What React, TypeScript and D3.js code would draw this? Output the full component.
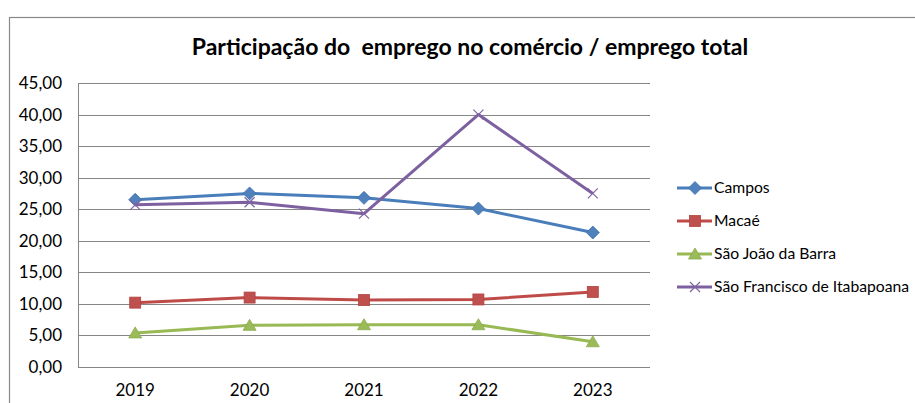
import React, { useEffect, useRef } from "react";
import * as d3 from "d3";

const years = ["2019", "2020", "2021", "2022", "2023"];
const campos = [26.5, 27.5, 26.8, 25.1, 21.3];
const macae = [10.2, 11.0, 10.6, 10.7, 11.9];
const saoJoao = [5.4, 6.6, 6.7, 6.7, 4.0];
const saoFrancisco = [25.7, 26.1, 24.3, 40.0, 27.5];
const yTicks = [0, 5, 10, 15, 20, 25, 30, 35, 40, 45];
const title = "Participação do  emprego no comércio / emprego total";

const series = [
  { name: "Campos", values: campos, color: "#4A7EBB", fill: "#4F81BD", marker: "diamond" },
  { name: "Macaé", values: macae, color: "#BE4B48", fill: "#C0504D", marker: "square" },
  { name: "São João da Barra", values: saoJoao, color: "#98B954", fill: "#9BBB59", marker: "triangle" },
  { name: "São Francisco de Itabapoana", values: saoFrancisco, color: "#7D60A0", fill: "#8064A2", marker: "x" },
];

const font = "Lato, 'Liberation Sans', sans-serif";

function drawMarker(g: any, kind: string, x: number, y: number, fill: string) {
  if (kind === "diamond") {
    g.append("path")
      .attr("d", `M${x},${y - 6.5}L${x + 6.5},${y}L${x},${y + 6.5}L${x - 6.5},${y}Z`)
      .attr("fill", fill)
      .attr("stroke", "#3F6FA8")
      .attr("stroke-width", 0.8);
  } else if (kind === "square") {
    g.append("rect")
      .attr("x", x - 5.5)
      .attr("y", y - 5.5)
      .attr("width", 11)
      .attr("height", 11)
      .attr("fill", fill)
      .attr("stroke", "#B04441")
      .attr("stroke-width", 0.8);
  } else if (kind === "triangle") {
    g.append("path")
      .attr("d", `M${x},${y - 6}L${x + 6.5},${y + 5}L${x - 6.5},${y + 5}Z`)
      .attr("fill", fill)
      .attr("stroke", "#8CAB4F")
      .attr("stroke-width", 0.8);
  } else {
    g.append("path")
      .attr("d", `M${x - 5},${y - 5}L${x + 5},${y + 5}M${x - 5},${y + 5}L${x + 5},${y - 5}`)
      .attr("stroke", fill)
      .attr("stroke-width", 1.2)
      .attr("fill", "none");
  }
}

const App = () => {
  const svgRef = useRef<SVGSVGElement>(null);

  useEffect(() => {
    const width = 915,
      height = 403;
    const margin = { top: 83, right: 265, bottom: 36, left: 78 };

    const svg = d3.select(svgRef.current);
    svg.selectAll("*").remove();
    svg.attr("width", width).attr("height", height);

    svg.append("rect").attr("width", width).attr("height", height).attr("fill", "#fff");

    // chart frame
    svg
      .append("rect")
      .attr("x", 9.5)
      .attr("y", 17.5)
      .attr("width", 1000)
      .attr("height", 500)
      .attr("fill", "none")
      .attr("stroke", "#898989")
      .attr("stroke-width", 1.2);

    svg
      .append("text")
      .attr("x", 470)
      .attr("y", 55)
      .attr("text-anchor", "middle")
      .attr("font-family", font)
      .attr("font-weight", "bold")
      .attr("font-size", 23)
      .attr("fill", "#000")
      .style("white-space", "pre")
      .text(title);

    const xScale = d3
      .scaleBand()
      .domain(years)
      .range([margin.left, width - margin.right]);
    const yScale = d3
      .scaleLinear()
      .domain([0, 45])
      .range([height - margin.bottom, margin.top]);

    // gridlines
    svg
      .append("g")
      .selectAll("line")
      .data(yTicks)
      .join("line")
      .attr("x1", margin.left)
      .attr("x2", width - margin.right)
      .attr("y1", (d) => Math.round(yScale(d)) + 0.5)
      .attr("y2", (d) => Math.round(yScale(d)) + 0.5)
      .attr("stroke", "#868686")
      .attr("stroke-width", 1);

    svg
      .append("line")
      .attr("x1", margin.left + 0.5)
      .attr("x2", margin.left + 0.5)
      .attr("y1", Math.round(yScale(45)) + 0.5)
      .attr("y2", Math.round(yScale(0)) + 0.5)
      .attr("stroke", "#868686");

    // y labels
    svg
      .append("g")
      .selectAll("text")
      .data(yTicks)
      .join("text")
      .attr("x", 62)
      .attr("y", (d) => yScale(d))
      .attr("dy", "0.35em")
      .attr("text-anchor", "end")
      .attr("font-family", font)
      .attr("font-size", 17)
      .attr("fill", "#000")
      .text((d) => d.toFixed(2).replace(".", ","));

    // x labels
    svg
      .append("g")
      .selectAll("text")
      .data(years)
      .join("text")
      .attr("x", (d) => xScale(d)! + xScale.bandwidth() / 2)
      .attr("y", 390)
      .attr("dy", "0.35em")
      .attr("text-anchor", "middle")
      .attr("font-family", font)
      .attr("font-size", 17)
      .attr("fill", "#000")
      .text((d) => d);

    const line = d3
      .line<number>()
      .x((_, i) => xScale(years[i])! + xScale.bandwidth() / 2)
      .y((d) => yScale(d));

    series.forEach((s) => {
      const g = svg.append("g");
      g.append("path")
        .datum(s.values)
        .attr("d", line)
        .attr("fill", "none")
        .attr("stroke", s.color)
        .attr("stroke-width", 3)
        .attr("stroke-linejoin", "round");
      s.values.forEach((v, i) => {
        drawMarker(g, s.marker, xScale(years[i])! + xScale.bandwidth() / 2, yScale(v), s.fill);
      });
    });

    // legend
    const legendRows = [188, 221, 254, 287];
    series.forEach((s, i) => {
      const g = svg.append("g");
      const y = legendRows[i];
      g.append("line")
        .attr("x1", 677)
        .attr("x2", 712)
        .attr("y1", y)
        .attr("y2", y)
        .attr("stroke", s.color)
        .attr("stroke-width", 3);
      drawMarker(g, s.marker, 695, y, s.fill);
      g.append("text")
        .attr("x", 714)
        .attr("y", y)
        .attr("dy", "0.35em")
        .attr("font-family", font)
        .attr("font-size", 15.7)
        .attr("fill", "#000")
        .text(s.name);
    });
  }, []);

  return <svg ref={svgRef} style={{ position: "absolute", left: 0, top: 0 }}></svg>;
};

export default App;
